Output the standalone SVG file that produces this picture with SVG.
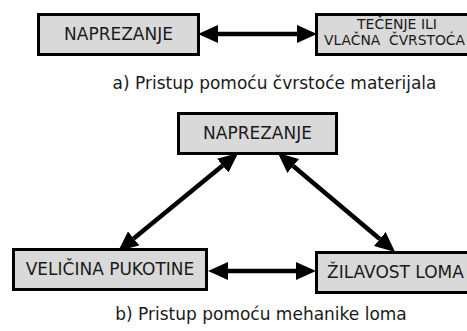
<svg xmlns="http://www.w3.org/2000/svg" width="467" height="331" viewBox="0 0 467 331">
<style>
.box{fill:#d9d9d9;stroke:#000;stroke-width:3}
.t{font-family:"DejaVu Sans",Verdana,sans-serif;font-size:17px;fill:#1a1a1a;text-anchor:middle}
.ts{font-family:"DejaVu Sans",Verdana,sans-serif;font-size:17px;fill:#1a1a1a;text-anchor:start}
.s{font-family:"DejaVu Sans",Verdana,sans-serif;font-size:14px;fill:#1a1a1a}
.cap{font-family:"DejaVu Sans",Verdana,sans-serif;font-size:17px;fill:#1a1a1a;text-anchor:middle}
.c{stroke:#000;stroke-width:4.5;fill:none;marker-start:url(#ah);marker-end:url(#ah)}
</style>
<defs>
<marker id="ah" markerUnits="userSpaceOnUse" markerWidth="20" markerHeight="18" refX="0" refY="9" orient="auto-start-reverse" viewBox="0 0 20 18">
<path d="M0,0 L20,9 L0,18 Z" fill="#000"/>
</marker>
</defs>
<rect width="467" height="331" fill="#fff"/>
<g id="connectors">
<line class="c" x1="218" y1="34" x2="297" y2="34"/>
<line class="c" x1="222.7" y1="165.6" x2="133.7" y2="238.4"/>
<line class="c" x1="293.2" y1="166" x2="379.8" y2="239"/>
<line class="c" x1="228" y1="271" x2="296" y2="271"/>
</g>
<g id="n1">
<rect class="box" x="38.5" y="14.5" width="160" height="40"/>
<text class="t" x="118.5" y="40">NAPREZANJE</text>
</g>
<g id="n2">
<rect class="box" x="316.5" y="14.5" width="160" height="40"/>
<text class="s" x="397" y="29" style="text-anchor:middle">TEČENJE ILI</text>
<text class="s" x="324" y="45" xml:space="preserve" textLength="141" lengthAdjust="spacingAndGlyphs">VLAČNA  ČVRSTOĆA</text>
</g>
<text class="cap" x="274.5" y="89">a) Pristup pomoću čvrstoće materijala</text>
<g id="n3">
<rect class="box" x="178.5" y="113.5" width="158" height="40"/>
<text class="t" x="257.5" y="139">NAPREZANJE</text>
</g>
<g id="n4">
<rect class="box" x="13.5" y="249.5" width="193" height="40"/>
<text class="t" x="110" y="275">VELIČINA PUKOTINE</text>
</g>
<g id="n5">
<rect class="box" x="316.5" y="252.5" width="160" height="40"/>
<text class="ts" x="327" y="278">ŽILAVOST LOMA</text>
</g>
<text class="cap" x="261" y="320">b) Pristup pomoću mehanike loma</text>
</svg>
